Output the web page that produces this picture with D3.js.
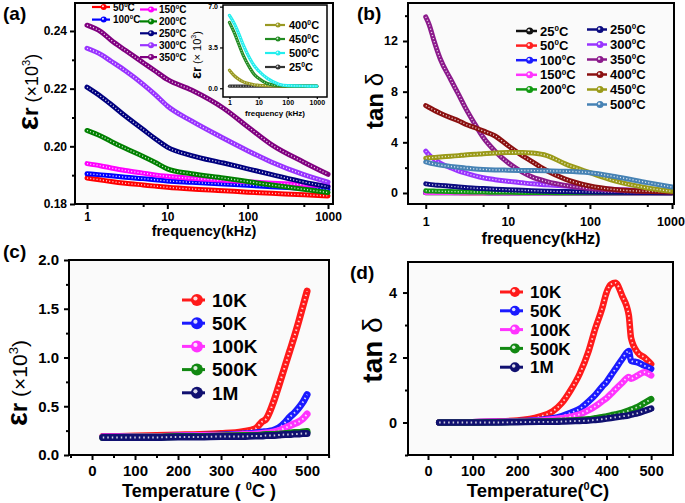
<!DOCTYPE html>
<html><head><meta charset="utf-8">
<script src="https://cdn.jsdelivr.net/npm/d3@7"></script>
<style>body{margin:0;background:#fff}text{font-family:"Liberation Sans",Arial,sans-serif}</style>
</head><body><svg id="c" width="685" height="503"></svg>
<script>
// ---------- DATA ----------
// (a) dielectric constant (x10^3) vs frequency (kHz)
const freqA = [1, 1.5, 2, 3, 5, 7, 10, 20, 50, 100, 200, 500, 1000];
const a50  = [0.1890,0.1883,0.1878,0.1872,0.1866,0.1862,0.1858,0.1852,0.1846,0.1841,0.1837,0.1832,0.1828];
const a100 = [0.1905,0.1901,0.1898,0.1893,0.1888,0.1884,0.1880,0.1875,0.1869,0.1865,0.1860,0.1855,0.1850];
const a150 = [0.1940,0.1932,0.1925,0.1916,0.1907,0.1901,0.1896,0.1889,0.1882,0.1877,0.1872,0.1867,0.1863];
const a200 = [0.2055,0.2035,0.2017,0.1993,0.1965,0.1945,0.1922,0.1905,0.1890,0.1878,0.1866,0.1851,0.1840];
const a250 = [0.2205,0.2172,0.2145,0.2105,0.2058,0.2027,0.1997,0.1968,0.1942,0.1922,0.1902,0.1876,0.1860];
const a300 = [0.2340,0.2318,0.2295,0.2262,0.2215,0.2180,0.2140,0.2088,0.2028,0.1985,0.1945,0.1902,0.1876];
const a350 = [0.2420,0.2397,0.2368,0.2333,0.2290,0.2262,0.2232,0.2195,0.2132,0.2068,0.2005,0.1945,0.1903];
const tempsA = ["50","100","150","200","250","300","350"];
const colorsA = ["#ff0000","#0000ff","#ff00ff","#008000","#00007f","#9933ff","#800080"];
// (a) inset
const freqI = [1, 1.5, 2, 3, 5, 7, 10, 20, 50, 100, 200, 500, 1000];
const i400 = [1.55,1.05,0.80,0.55,0.38,0.30,0.26,0.22,0.20,0.19,0.19,0.18,0.18];
const i450 = [5.65,4.70,3.90,2.80,1.75,1.20,0.85,0.40,0.22,0.20,0.19,0.19,0.18];
const i500 = [6.25,5.50,4.80,3.70,2.55,1.95,1.50,0.85,0.35,0.22,0.20,0.19,0.18];
const i25  = [0.18,0.18,0.18,0.18,0.18,0.18,0.18,0.18,0.18,0.18,0.18,0.18,0.18];
const tempsI = ["400","450","500","25"];
const colorsI = ["#999922","#228b22","#22eeee","#333333"];
// (b) tan delta vs frequency
const freqB = [1, 1.1, 1.25, 1.5, 2, 2.5, 3, 4, 5, 7, 10, 15, 20, 30, 50, 100, 200, 500, 1000];
const b25  = [0.01,0.01,0.01,0.01,0.01,0.01,0.01,0.01,0.01,0.01,0.01,0.01,0.01,0.01,0.01,0.01,0.01,0.01,0.01];
const b50  = [0.03,0.03,0.03,0.03,0.03,0.03,0.02,0.02,0.02,0.02,0.02,0.02,0.02,0.02,0.02,0.02,0.02,0.02,0.02];
const b100 = [0.04,0.04,0.04,0.03,0.03,0.03,0.03,0.03,0.03,0.02,0.02,0.02,0.02,0.02,0.02,0.02,0.02,0.02,0.02];
const b150 = [0.03,0.03,0.03,0.03,0.03,0.02,0.02,0.02,0.02,0.02,0.02,0.02,0.02,0.02,0.02,0.02,0.02,0.02,0.02];
const b200 = [0.18,0.16,0.15,0.13,0.11,0.10,0.09,0.08,0.07,0.06,0.05,0.04,0.035,0.03,0.025,0.02,0.015,0.01,0.01];
const b250 = [0.72,0.68,0.64,0.60,0.53,0.48,0.44,0.38,0.35,0.30,0.26,0.21,0.18,0.14,0.11,0.08,0.05,0.03,0.02];
const b300 = [3.30,3.00,2.70,2.35,2.00,1.75,1.58,1.35,1.20,1.05,0.92,0.80,0.72,0.65,0.55,0.40,0.28,0.18,0.13];
const b350 = [13.9,13.3,12.1,10.6,9.0,7.8,6.8,5.4,4.4,3.3,2.4,1.65,1.25,0.90,0.60,0.35,0.22,0.13,0.10];
const b400 = [6.90,6.75,6.55,6.30,5.95,5.70,5.45,5.15,4.90,4.50,3.75,2.95,2.45,1.75,1.10,0.55,0.27,0.13,0.08];
const b450 = [2.75,2.78,2.80,2.85,2.90,2.95,3.00,3.05,3.10,3.15,3.20,3.20,3.15,2.95,2.30,1.60,0.95,0.40,0.13];
const b500 = [2.45,2.38,2.30,2.20,2.10,2.03,1.98,1.90,1.86,1.82,1.80,1.78,1.77,1.75,1.72,1.60,1.30,0.82,0.47];
const tempsB = ["25","50","100","150","200","250","300","350","400","450","500"];
const colorsB = ["#111111","#ff2020","#1a1aff","#ff33ff","#119911","#0b0b80","#9933ff","#8b1a8b","#8b1010","#9a9a18","#4682b4"];
// (c) dielectric constant (x10^3) vs temperature
const tempC = [25, 50, 100, 150, 200, 250, 300, 350, 380, 395, 405, 420, 435, 450, 460, 470, 480, 490, 500];
const c10K  = [0.19,0.19,0.195,0.20,0.205,0.21,0.22,0.24,0.27,0.34,0.37,0.52,0.72,0.93,1.07,1.21,1.36,1.52,1.68];
const c50K  = [0.185,0.185,0.19,0.19,0.195,0.20,0.205,0.215,0.225,0.235,0.24,0.25,0.28,0.34,0.39,0.43,0.48,0.54,0.62];
const c100K = [0.185,0.185,0.19,0.19,0.195,0.20,0.20,0.21,0.215,0.22,0.225,0.235,0.25,0.28,0.30,0.32,0.34,0.37,0.42];
const c500K = [0.18,0.18,0.185,0.185,0.19,0.19,0.195,0.20,0.20,0.205,0.21,0.21,0.215,0.22,0.225,0.23,0.23,0.235,0.24];
const c1M   = [0.18,0.18,0.18,0.18,0.185,0.185,0.19,0.19,0.195,0.195,0.20,0.20,0.205,0.21,0.21,0.215,0.215,0.22,0.22];
const freqsCD = ["10K","50K","100K","500K","1M"];
const colorsCD = ["#ff1a1a","#1a1aff","#ff33ff","#118811","#101070"];
// (d) tan delta vs temperature
const tempD = [25, 50, 100, 150, 200, 250, 280, 300, 320, 340, 360, 375, 390, 400, 410, 420, 435, 450, 455, 470, 485, 500];
const d10K  = [0.0,0.0,0.01,0.03,0.06,0.18,0.35,0.60,1.00,1.50,2.20,2.90,3.50,4.00,4.25,4.30,3.90,3.30,2.60,2.15,2.00,1.80];
const d50K  = [0.0,0.0,0.01,0.02,0.04,0.08,0.13,0.20,0.30,0.42,0.65,0.85,1.10,1.25,1.45,1.65,1.95,2.20,1.90,1.85,1.75,1.65];
const d100K = [0.0,0.0,0.01,0.02,0.03,0.06,0.10,0.13,0.18,0.25,0.38,0.50,0.65,0.75,0.88,1.02,1.22,1.40,1.35,1.45,1.55,1.45];
const d500K = [0.0,0.0,0.0,0.01,0.02,0.03,0.04,0.05,0.06,0.08,0.10,0.13,0.16,0.19,0.22,0.25,0.30,0.37,0.40,0.48,0.60,0.72];
const d1M   = [0.0,0.0,0.0,0.0,0.01,0.02,0.02,0.03,0.04,0.05,0.06,0.08,0.10,0.12,0.14,0.16,0.19,0.22,0.24,0.29,0.36,0.43];
// tick values
const logTicks = [1, 10, 100, 1000];
const logMinor = [5, 50, 500];
const tempTicks = [0, 100, 200, 300, 400, 500];
const tempMinor = [-50, 50, 150, 250, 350, 450, 550];

// ---------- DRAWING ----------
const svg = d3.select("#c");
let clipId = 0;

function drawSeries(g, x, y, xs, ys, color, w, dash) {
  const line = d3.line().x((d,i)=>x(xs[i])).y(d=>y(d)).curve(d3.curveMonotoneX);
  g.append("path").attr("d", line(ys)).attr("fill","none").attr("stroke",color)
    .attr("stroke-width",w).attr("stroke-linecap","round").attr("stroke-linejoin","round");
  g.append("path").attr("d", line(ys)).attr("fill","none").attr("stroke","#fff")
    .attr("stroke-width",Math.max(1,w*0.28)).attr("stroke-dasharray",dash).attr("opacity",0.8);
}

function panel(o) {
  const g = svg.append("g");
  const x = (o.log ? d3.scaleLog() : d3.scaleLinear()).domain(o.xd).range([o.l, o.r]);
  const y = d3.scaleLinear().domain(o.yd).range([o.b, o.t]);
  g.append("rect").attr("x",o.l).attr("y",o.t).attr("width",o.r-o.l).attr("height",o.b-o.t).attr("fill",o.bg||"#fafafa");
  const id = "clip" + (clipId++);
  g.append("clipPath").attr("id",id).append("rect").attr("x",o.l).attr("y",o.t).attr("width",o.r-o.l).attr("height",o.b-o.t);
  const sg = g.append("g").attr("clip-path",`url(#${id})`);
  o.series.forEach((s,i)=>drawSeries(sg, x, y, o.xs, s, o.colors[i], o.lw, o.dash));
  const mk = (axis, minor, tv, fmt, size, pad) => axis.tickValues(tv).tickFormat(minor ? "" : fmt).tickSize(size).tickPadding(pad);
  const ax1 = g.append("g").attr("transform",`translate(0,${o.b})`).call(mk(d3.axisBottom(x), true, o.xminor.filter(v=>v>=o.xd[0]&&v<=o.xd[1]), null, o.tick*0.6, 2));
  const ax2 = g.append("g").attr("transform",`translate(0,${o.b})`).call(mk(d3.axisBottom(x), false, o.xt, o.xf, o.xtick||o.tick, o.xpad));
  const ay1 = g.append("g").attr("transform",`translate(${o.l},0)`).call(mk(d3.axisLeft(y), true, o.yminor, null, o.tick*0.6, 2));
  const ay2 = g.append("g").attr("transform",`translate(${o.l},0)`).call(mk(d3.axisLeft(y), false, o.yt, o.yf, o.tick, o.ypad));
  [ax1,ax2,ay1,ay2].forEach(a=>{
    a.select(".domain").remove();
    a.selectAll("line").attr("stroke","#000").attr("stroke-width",o.tw||2);
    a.selectAll("text").attr("font-size",o.fs).attr("font-weight","bold").attr("fill","#000")
      .attr("font-family",'"Liberation Sans",Arial,sans-serif');
  });
  if (o.lastDx) ax2.selectAll("text").filter((d,i,n)=>i===n.length-1).attr("dx",o.lastDx);
  g.append("rect").attr("x",o.l).attr("y",o.t).attr("width",o.r-o.l).attr("height",o.b-o.t)
    .attr("fill","none").attr("stroke","#000").attr("stroke-width",o.fw||2);
  return {x,y,g};
}

function degText(t, num, unit, fs) {
  t.append("tspan").text(num);
  t.append("tspan").attr("dy",-fs*0.38).attr("font-size",fs*0.62).text("0");
  t.append("tspan").attr("dy",fs*0.38).text(unit);
}

function legend(entries, colors, x1, x2, tx, y0, dy, fs, r, lw, deg) {
  entries.forEach((e,i)=>{
    const yy = y0 + i*dy;
    svg.append("line").attr("x1",x1).attr("x2",x2).attr("y1",yy).attr("y2",yy).attr("stroke",colors[i]).attr("stroke-width",lw);
    const cx = (x1+x2)/2 + (x2-x1)*0.15;
    svg.append("circle").attr("cx",cx).attr("cy",yy).attr("r",r).attr("fill",colors[i]);
    svg.append("circle").attr("cx",cx-r*0.25).attr("cy",yy-r*0.25).attr("r",r*0.35).attr("fill","#fff").attr("opacity",0.85);
    const t = svg.append("text").attr("x",tx).attr("y",yy+fs*0.36).attr("font-size",fs).attr("font-weight","bold");
    if (deg) degText(t, e, "C", fs); else t.text(e);
  });
}

function epsTitle(x, y, fe, fr, fp) {
  const t = svg.append("text").attr("transform",`translate(${x},${y}) rotate(-90)`).attr("text-anchor","middle");
  t.append("tspan").attr("font-size",fe).attr("font-weight","bold").text("ε");
  t.append("tspan").attr("font-size",fr).attr("font-weight","bold").text("r");
  t.append("tspan").attr("font-size",fp).text(" (×10");
  t.append("tspan").attr("font-size",fp*0.62).attr("dy",-fp*0.42).text("3");
  t.append("tspan").attr("font-size",fp).attr("dy",fp*0.42).text(")");
}
function tanTitle(x, y, fs) {
  const t = svg.append("text").attr("transform",`translate(${x},${y}) rotate(-90)`).attr("text-anchor","middle").attr("font-size",fs);
  t.append("tspan").attr("font-weight","bold").text("tan ");
  t.append("tspan").text("δ");
}
function label(txt, x, y, fs) {
  svg.append("text").attr("x",x).attr("y",y).attr("font-size",fs).attr("font-weight","bold")
    .attr("font-family",'"Open Sans",Arial,sans-serif').text(txt);
}

// ----- Panel (a)
panel({l:75, r:333, t:3, b:204, log:true, xd:[0.709,1154], yd:[0.18,0.2497],
  xs:freqA, series:[a50,a100,a150,a200,a250,a300,a350], colors:colorsA, lw:5, dash:"1.1 2.1",
  xt:logTicks, xminor:logMinor, xf:d3.format("d"), yt:[0.18,0.20,0.22,0.24], yminor:[0.19,0.21,0.23], yf:d3.format(".2f"),
  fs:12, tick:5, xpad:3, ypad:3});
svg.append("text").attr("x",204).attr("y",236).attr("text-anchor","middle").attr("font-size",14.5).attr("font-weight","bold").text("frequency(kHz)");
epsTitle(38, 92, 30, 22, 18);
label("(a)", 3, 20, 19);
legend(tempsA.slice(0,2), colorsA.slice(0,2), 92, 110, 113, 7, 12.6, 10, 3, 2.2, true);
legend(tempsA.slice(2), colorsA.slice(2), 140, 157, 159, 9.5, 11.9, 10, 3, 2.2, true);

// ----- Inset
panel({l:223, r:327, t:5, b:97, log:true, xd:[0.6,2240], yd:[-0.75,7.14], bg:"#fff",
  xs:freqI, series:[i25,i400,i450,i500], colors:[colorsI[3],colorsI[0],colorsI[1],colorsI[2]], lw:3.2, dash:"0.9 1.8",
  xt:logTicks, xminor:[], xf:d3.format("d"), yt:[0,3.5,7.0], yminor:[], yf:d3.format(".1f"),
  fs:7, tick:3, xtick:2, xpad:1, ypad:2, tw:1.2, fw:1.5});
svg.append("text").attr("x",275).attr("y",116).attr("text-anchor","middle").attr("font-size",8).attr("font-weight","bold").text("frequency (kHz)");
(function(){
  const t = svg.append("text").attr("transform","translate(201,55) rotate(-90)").attr("text-anchor","middle");
  t.append("tspan").attr("font-size",15).attr("font-weight","bold").text("ε");
  t.append("tspan").attr("font-size",12).attr("font-weight","bold").text("r");
  t.append("tspan").attr("font-size",11).text(" (× 10");
  t.append("tspan").attr("font-size",7).attr("dy",-5).text("3");
  t.append("tspan").attr("font-size",11).attr("dy",5).text(")");
})();
legend(tempsI, colorsI, 265, 285, 289, 25, 14, 11, 2.5, 2.2, true);

// ----- Panel (b)
panel({l:408, r:674, t:3, b:204, log:true, xd:[0.608,1057], yd:[-0.87,15.0],
  xs:freqB, series:[b25,b50,b100,b150,b200,b250,b300,b350,b400,b450,b500], colors:colorsB, lw:5, dash:"1.1 2.1",
  xt:logTicks, xminor:logMinor, xf:d3.format("d"), yt:[0,4,8,12], yminor:[2,6,10,14], yf:d3.format("d"),
  fs:12.5, tick:5, xpad:8, ypad:5, lastDx:-1.5});
svg.append("text").attr("x",541).attr("y",244).attr("text-anchor","middle").attr("font-size",16.5).attr("font-weight","bold").text("frequency(kHz)");
tanTitle(383, 101, 24);
label("(b)", 357, 20, 19);
legend(tempsB.slice(0,5), colorsB.slice(0,5), 516, 537, 540, 31, 14.6, 13, 3.5, 2.5, true);
legend(tempsB.slice(5), colorsB.slice(5), 587, 607, 610, 29.5, 15, 13, 3.5, 2.5, true);

// ----- Panel (c)
panel({l:69, r:329, t:260, b:455, log:false, xd:[-53.5,551], yd:[0,2.0],
  xs:tempC, series:[c10K,c50K,c100K,c500K,c1M], colors:colorsCD, lw:7, dash:"1.5 3",
  xt:tempTicks, xminor:tempMinor, xf:d3.format("d"), yt:[0,0.5,1.0,1.5,2.0], yminor:[0.25,0.75,1.25,1.75], yf:d3.format(".1f"),
  fs:15, tick:5, xpad:5, ypad:5});
(function(){
  const t = svg.append("text").attr("x",199).attr("y",497).attr("text-anchor","middle").attr("font-size",18).attr("font-weight","bold");
  t.append("tspan").text("Temperature ( ");
  t.append("tspan").attr("dy",-7).attr("font-size",11).text("0");
  t.append("tspan").attr("dy",7).text("C )");
})();
epsTitle(27, 383, 29, 24, 21);
label("(c)", 3, 258, 19);
legend(freqsCD, colorsCD, 182, 205, 212, 300, 23.2, 19, 6, 3, false);

// ----- Panel (d)
panel({l:408, r:673, t:262, b:455, log:false, xd:[-44.8,549], yd:[-1,4.94],
  xs:tempD, series:[d10K,d50K,d100K,d500K,d1M], colors:colorsCD, lw:6.5, dash:"1.5 3",
  xt:tempTicks, xminor:tempMinor, xf:d3.format("d"), yt:[0,2,4], yminor:[-1,1,3], yf:d3.format("d"),
  fs:14.5, tick:5, xpad:6, ypad:6});
(function(){
  const t = svg.append("text").attr("x",538).attr("y",497).attr("text-anchor","middle").attr("font-size",18.5).attr("font-weight","bold");
  t.append("tspan").text("Temperature(");
  t.append("tspan").attr("dy",-7).attr("font-size",11).text("0");
  t.append("tspan").attr("dy",7).text("C)");
})();
tanTitle(382, 350, 28);
label("(d)", 350, 279, 19);
legend(freqsCD, colorsCD, 500, 523, 530, 292, 18.8, 17, 5, 3, false);
</script></body></html>
